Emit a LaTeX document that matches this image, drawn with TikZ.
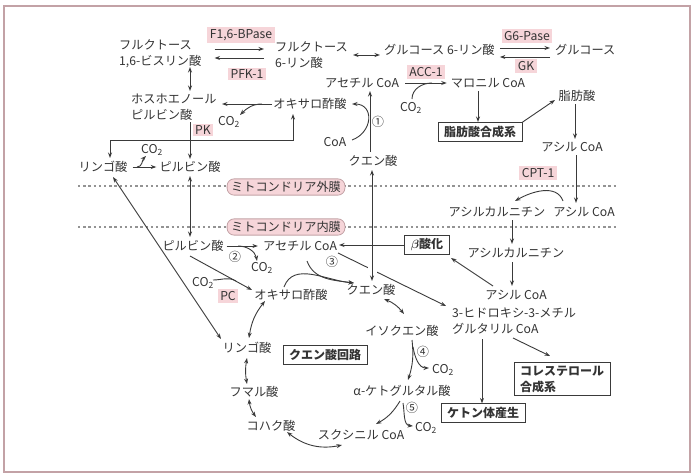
\documentclass[tikz,border=0pt]{standalone}
\usepackage{fontspec}
\setmainfont{Noto Sans CJK JP}
\usetikzlibrary{arrows.meta,calc}
\definecolor{txt}{HTML}{333333}
\definecolor{lc}{HTML}{3A3A3A}
\definecolor{enz}{HTML}{F6D5D9}
\definecolor{frm}{HTML}{C3A2A6}
\newcommand{\cotwo}{CO\textsubscript{2}}
\begin{document}
\begin{tikzpicture}[x=1pt,y=-1pt,
  font=\fontsize{12.2}{16}\selectfont,
  every node/.style={text=txt, inner sep=1pt},
  lb/.style={align=left},
  enzb/.style={fill=enz, inner xsep=2.5pt, inner ysep=2pt},
  memb/.style={fill=enz, draw=frm, line width=0.8pt, rounded corners=7pt, inner xsep=4pt, inner ysep=2.5pt},
  bx/.style={draw=lc, line width=0.8pt, inner xsep=6pt, inner ysep=3.5pt, font=\fontsize{12}{16}\selectfont\bfseries},
  ar/.style={-{Stealth[length=5.5pt,width=4pt]}, draw=lc, line width=0.9pt},
  dar/.style={{Stealth[length=5.5pt,width=4pt]}-{Stealth[length=5.5pt,width=4pt]}, draw=lc, line width=0.9pt},
  ln/.style={draw=lc, line width=0.9pt},
  memline/.style={draw=gray!85, line width=1.4pt, dash pattern=on 2.4pt off 2.8pt}]
\useasboundingbox (0,0) rectangle (700,474);
\draw[frm, line width=1.5pt] (4,6) rectangle (690,472);

% membranes
\draw[memline] (78,186) -- (617,186);
\draw[memline] (78,227) -- (617,227);
\node[memb] (outer) at (286,187) {ミトコンドリア外膜};
\node[memb] (inner) at (286,227) {ミトコンドリア内膜};

% cytosol nodes
\node[anchor=west, lb] (f16bp) at (118,54) {フルクトース\\1,6-ビスリン酸};
\node[enzb] (eF) at (241,35) {F1,6-BPase};
\node[enzb] (ePFK) at (247,74) {PFK-1};
\node[anchor=west, lb] (f6p) at (274,55) {フルクトース\\6-リン酸};
\node[anchor=west] (g6p) at (383,50) {グルコース 6-リン酸};
\node[enzb] (eG6) at (527,36) {G6-Pase};
\node[anchor=west] (glc) at (554,50) {グルコース};
\node[enzb] (eGK) at (526,66) {GK};
\node[anchor=west, lb] (pep) at (130,107) {ホスホエノール\\ピルビン酸};
\node[enzb] (ePK) at (203,130) {PK};
\node (oaa1) at (310,104) {オキサロ酢酸};
\node (co2a) at (229,122) {\cotwo};
\node (acoa1) at (362,83) {アセチル CoA};
\node[enzb] (eACC) at (426,72) {ACC-1};
\node (mal) at (488,83) {マロニル CoA};
\node (co2b) at (411,108) {\cotwo};
\node (c1) at (378,122) {①};
\node (coa) at (335,142) {CoA};
\node (cit1) at (373,161) {クエン酸};
\node[bx] (fasb) at (480,132) {脂肪酸合成系};
\node (fa) at (577,96) {脂肪酸};
\node (acyl1) at (572,147) {アシル CoA};
\node (mal1) at (103,167) {リンゴ酸};
\node (pyr1) at (190,167) {ピルビン酸};
\node (co2c) at (152,150) {\cotwo};

% mitochondrial nodes
\node[enzb] (eCPT) at (538,173) {CPT-1};
\node (acylcar1) at (497,212) {アシルカルニチン};
\node (acyl2) at (584,212) {アシル CoA};
\node (acylcar2) at (516,253) {アシルカルニチン};
\node (acyl3) at (516,295) {アシル CoA};
\node[bx] (beta) at (427,245) {{\boldmath$\beta$}酸化};
\node (acoa2) at (300,246) {アセチル CoA};
\node (pyr2) at (193,246) {ピルビン酸};
\node (c2) at (235,257) {②};
\node (co2d) at (262,268) {\cotwo};
\node (co2e) at (203,283) {\cotwo};
\node[enzb] (ePC) at (228,296) {PC};
\node (oaa2) at (291,295) {オキサロ酢酸};
\node (c3) at (332,262) {③};
\node (cit2) at (371,290) {クエン酸};
\node[anchor=west, lb] (hmg) at (451,321) {3-ヒドロキシ-3-メチル\\グルタリル CoA};
\node (icit) at (402,331) {イソクエン酸};
\node (c4) at (423,352) {④};
\node (co2f) at (443,370) {\cotwo};
\node (akg) at (402,391) {α-ケトグルタル酸};
\node (c5) at (412,408) {⑤};
\node (co2g) at (426,428) {\cotwo};
\node (succoa) at (361,435) {スクシニル CoA};
\node (succ) at (271,426) {コハク酸};
\node (fum) at (254,392) {フマル酸};
\node (mal2) at (247,348) {リンゴ酸};
\node[bx] (tca) at (325,355) {クエン酸回路};
\node[bx] (ketone) at (483,413) {ケトン体産生};
\node[bx, align=left] (chol) at (562,379) {コレステロール\\合成系};

% glycolysis / gluconeogenesis
\draw[ar] ($(f16bp.east)+(12,-5)$) -- ($(f6p.west)+(-10,-6)$);
\draw[ar] ($(f6p.west)+(-10,3)$) -- ($(f16bp.east)+(12,4)$);
\draw[dar] ($(f6p.east)+(4,0)$) -- ($(g6p.west)+(-3,5)$);
\draw[ar] ($(g6p.east)+(4,-2)$) -- ($(glc.west)+(-4,-2)$);
\draw[ar] ($(glc.west)+(-4,7)$) -- ($(g6p.east)+(4,7)$);
\draw[dar] (190,67) -- (190,91);
\draw[ar] (190,122) -- (190,159);
\draw[ar] (oaa1.west) -- (222,104);
\draw[ar] (262,104) to[out=180,in=45] (240,115);
\draw[dar] (293,114) -- (293,140) -- (110,140) -- (110,158);
\draw[ar, shorten <=4pt, shorten >=2pt] (mal1) -- (pyr1);
\draw[ar] (137,167) to[out=0,in=225] (146,156);
\draw[dar] (190,176) -- (190,237);
\draw[dar] (113,177) -- (221,339);

% fatty acid synthesis
\draw[ar] (370,152) -- (370,91);
\draw[ar] (352,140) to[out=20,in=0,looseness=1.6] (352,104);
\draw[ar, shorten <=5pt, shorten >=3pt] (acoa1) -- (mal);
\draw[ln] (412,99) to[out=90,in=180] (432,83);
\draw[ar] (478,91) -- (478,122);
\draw[ar] (fasb.north east) -- (555,100);
\draw[ar] (575,104) -- (575,139);
\draw[ar] (576,155) -- (576,203);
\draw[ar] (563,201) to[out=110,in=30] (515,201);
\draw[ar] (512,220) -- (512,244);
\draw[ar] (512,262) -- (512,286);
\draw[ar] (493,286) -- (451,258);
\draw[ar] (beta.west) -- (339,245);

% pyruvate / acetyl CoA
\draw[ar, shorten <=2pt, shorten >=4pt] (pyr2) -- (acoa2);
\draw[ar] (238,246) to[out=0,in=100] (257,261);
\draw[ar] (190,256) -- (252,290);
\draw[ln] (213,280) to[out=0,in=150] (236,281);
\draw[ar] (307,261) to[out=-70,in=172] (354,283);
\draw[ar] (284,287) to[out=70,in=175] (354,283);
\draw[ar] (338,253) -- (446,306);
\draw[white, line width=9pt] (372,263) -- (372,277);
\draw[dar] (372,170) -- (372,281);

% TCA cycle
\draw[dar] (384,299) to[bend left=15] (404,314);
\draw[ar] (412,340) to[bend left=12] (408,380);
\draw[ar] (413,347) to[out=-80,in=180] (429,368);
\draw[ar] (400,401) to[bend left=15] (376,424);
\draw[ar] (403,403) to[out=-80,in=175] (413,426);
\draw[dar] (342,445) to[bend left=25] (287,432);
\draw[dar] (256,417) to[bend left=15] (249,399);
\draw[dar] (247,384) to[bend left=10] (247,358);
\draw[dar] (249,338) to[bend left=15] (265,301);

% ketone / cholesterol
\draw[ar] (482,339) -- (ketone.north -| 482,0);
\draw[ar] (513,338) -- (550,356);
\end{tikzpicture}
\end{document}
